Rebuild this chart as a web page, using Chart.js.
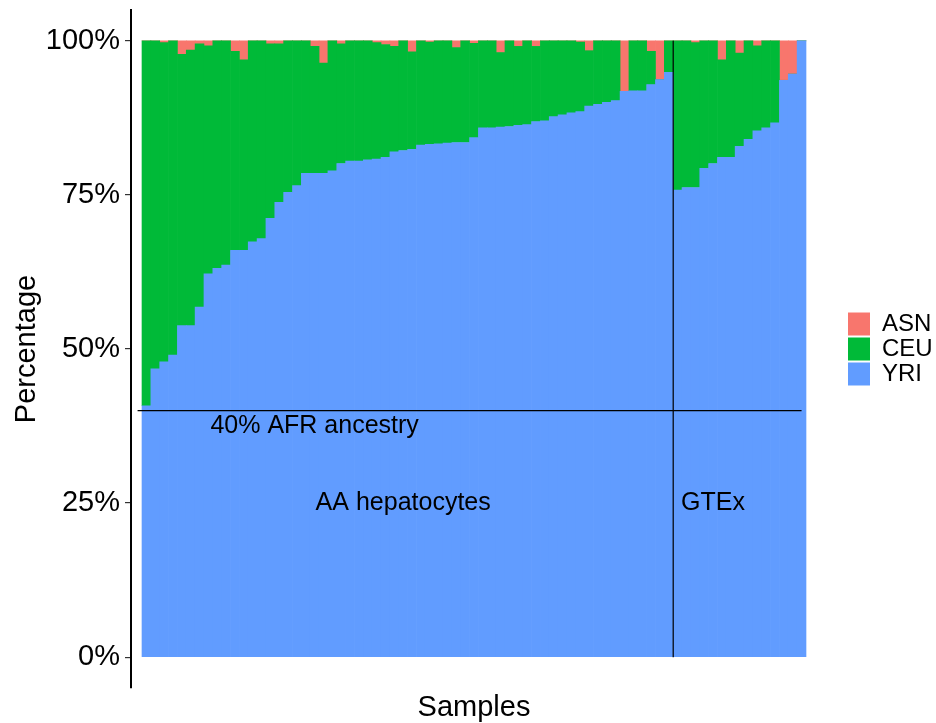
<!DOCTYPE html>
<html>
<head>
<meta charset="utf-8">
<script src="https://cdn.jsdelivr.net/npm/chart.js@4.4.1/dist/chart.umd.min.js"></script>
<style>
  html, body { margin: 0; padding: 0; background: #ffffff; }
  #wrap { width: 936px; height: 723px; }
</style>
</head>
<body>
<div id="wrap"><canvas id="chart" width="936" height="723"></canvas></div>
<script>
// ---- Data ----
const aaSamples = ["AA1","AA2","AA3","AA4","AA5","AA6","AA7","AA8","AA9","AA10",
  "AA11","AA12","AA13","AA14","AA15","AA16","AA17","AA18","AA19","AA20",
  "AA21","AA22","AA23","AA24","AA25","AA26","AA27","AA28","AA29","AA30",
  "AA31","AA32","AA33","AA34","AA35","AA36","AA37","AA38","AA39","AA40",
  "AA41","AA42","AA43","AA44","AA45","AA46","AA47","AA48","AA49","AA50",
  "AA51","AA52","AA53","AA54","AA55","AA56","AA57","AA58","AA59","AA60"];
const gtexSamples = ["GTEx1","GTEx2","GTEx3","GTEx4","GTEx5","GTEx6","GTEx7","GTEx8",
  "GTEx9","GTEx10","GTEx11","GTEx12","GTEx13","GTEx14","GTEx15"];
const samples = aaSamples.concat(gtexSamples);

const yri = [40.8,46.8,47.9,49.0,53.8,53.8,56.8,62.2,63.1,63.6,
  66.0,66.0,67.4,67.9,71.2,73.8,75.4,76.5,78.5,78.5,
  78.5,78.9,80.1,80.5,80.5,80.7,80.8,81.1,82.0,82.2,
  82.4,83.1,83.2,83.3,83.4,83.5,83.5,84.3,85.9,85.9,
  86.0,86.1,86.3,86.4,86.9,87.0,87.7,88.0,88.3,88.5,
  89.4,89.7,90.0,90.3,91.8,91.9,91.9,92.9,93.7,94.9,
  75.8,76.2,76.2,79.3,80.1,81.1,81.1,82.9,84.0,85.4,
  85.9,86.7,93.6,94.6,100.0];
const ceu = [59.2,53.2,51.8,51.0,44.0,44.7,42.7,37.0,36.9,36.4,
  32.3,30.9,32.6,32.1,28.3,25.7,24.6,23.5,21.5,20.6,
  17.9,21.1,19.4,19.5,19.5,19.3,18.9,18.3,17.1,17.8,
  15.8,16.9,16.6,16.7,16.6,15.4,16.5,15.3,14.1,14.1,
  12.1,13.9,12.8,13.6,12.2,13.0,12.3,12.0,11.7,11.3,
  9.0,10.3,10.0,9.7,0.0,8.1,8.1,5.4,0.0,5.1,
  24.2,23.8,23.5,20.7,19.9,15.8,18.9,15.1,16.0,13.8,
  14.1,13.3,0.0,0.0,0.0];
const asn = [0.0,0.0,0.3,0.0,2.2,1.5,0.5,0.8,0.0,0.0,
  1.7,3.1,0.0,0.0,0.5,0.5,0.0,0.0,0.0,0.9,
  3.6,0.0,0.5,0.0,0.0,0.0,0.3,0.6,0.9,0.0,
  1.8,0.0,0.2,0.0,0.0,1.1,0.0,0.4,0.0,0.0,
  1.9,0.0,0.9,0.0,0.9,0.0,0.0,0.0,0.0,0.2,
  1.6,0.0,0.0,0.0,8.2,0.0,0.0,1.7,6.3,0.0,
  0.0,0.0,0.3,0.0,0.0,3.1,0.0,2.0,0.0,0.8,
  0.0,0.0,6.4,5.4,0.0];

const yTickValues = [0, 25, 50, 75, 100];
const thresholdPct = 40;           // horizontal reference line (40% AFR)
const thresholdSpan = [0, 75];     // x extent of that line (sample positions)
const groupBoundary = 60.5;        // between AA hepatocytes and GTEx
const annotationTexts = ["40% AFR ancestry", "AA hepatocytes", "GTEx"];
const annotationX = [20, 30, 65];
const annotationY = [37.5, 25, 25];

// ---- Styling ----
const FONT = '"Liberation Sans", Arial, sans-serif';
const COLORS = { YRI: '#619CFF', CEU: '#00BA38', ASN: '#F8766D' };
const X_MIN = -0.743, X_MAX = 76.743;
const PAD_RIGHT = 34;
const LEGEND_SHIFT = 30;

const toPoints = arr => arr.map((v, i) => ({ x: i + 1, y: v, sample: samples[i] }));

const overlay = {
  id: 'overlay',
  afterLayout(chart) {
    const lg = chart.legend;
    if (lg) { lg.left += LEGEND_SHIFT; lg.right += LEGEND_SHIFT; }
  },
  afterDatasetsDraw(chart) {
    const { ctx, scales: { x, y } } = chart;
    ctx.save();
    ctx.strokeStyle = '#000000';
    ctx.lineWidth = 1.2;
    ctx.beginPath();
    ctx.moveTo(x.getPixelForValue(thresholdSpan[0]), y.getPixelForValue(thresholdPct));
    ctx.lineTo(x.getPixelForValue(thresholdSpan[1]), y.getPixelForValue(thresholdPct));
    ctx.moveTo(x.getPixelForValue(groupBoundary), y.getPixelForValue(0));
    ctx.lineTo(x.getPixelForValue(groupBoundary), y.getPixelForValue(100));
    ctx.stroke();
    ctx.fillStyle = '#000000';
    ctx.font = '25px ' + FONT;
    ctx.textAlign = 'center';
    ctx.textBaseline = 'middle';
    annotationTexts.forEach((t, i) => {
      ctx.fillText(t, x.getPixelForValue(annotationX[i]), y.getPixelForValue(annotationY[i]));
    });
    ctx.restore();
  }
};

new Chart(document.getElementById('chart'), {
  type: 'bar',
  data: {
    labels: samples,
    datasets: [
      { label: 'YRI', data: toPoints(yri), backgroundColor: COLORS.YRI, borderWidth: 0 },
      { label: 'CEU', data: toPoints(ceu), backgroundColor: COLORS.CEU, borderWidth: 0 },
      { label: 'ASN', data: toPoints(asn), backgroundColor: COLORS.ASN, borderWidth: 0 }
    ]
  },
  options: {
    responsive: false,
    animation: false,
    devicePixelRatio: 1,
    barPercentage: 1.0,
    categoryPercentage: 1.0,
    layout: { padding: { top: 10, left: 0, bottom: 0, right: PAD_RIGHT } },
    plugins: {
      tooltip: { enabled: false },
      legend: {
        position: 'right',
        fullSize: false,
        reverse: true,
        align: 'center',
        maxWidth: 85,
        labels: {
          font: { family: FONT, size: 24 },
          color: '#000000',
          boxWidth: 22,
          boxHeight: 23,
          padding: 1
        }
      }
    },
    scales: {
      x: {
        type: 'linear',
        offset: false,
        stacked: true,
        min: X_MIN,
        max: X_MAX,
        grid: { display: false },
        border: { display: false },
        ticks: { display: false },
        afterBuildTicks: s => { s.ticks = []; },
        afterFit: s => { s.height = 35; s.paddingLeft = 0; s.paddingRight = 0; },
        title: {
          display: true,
          text: 'Samples',
          color: '#000000',
          font: { family: FONT, size: 29, lineHeight: 1 },
          padding: { top: 0, bottom: 0.5 }
        }
      },
      y: {
        type: 'linear',
        stacked: true,
        min: -5,
        max: 105,
        afterBuildTicks: s => { s.ticks = yTickValues.map(v => ({ value: v })); },
        afterFit: s => { s.width = 131; s.paddingTop = 0; s.paddingBottom = 0; },
        grid: {
          display: true,
          drawOnChartArea: false,
          drawTicks: true,
          tickLength: 6,
          color: '#333333',
          lineWidth: 1.2
        },
        border: { display: true, color: '#000000', width: 2 },
        ticks: {
          font: { family: FONT, size: 29 },
          color: '#000000',
          padding: 5,
          callback: v => v + '%'
        },
        title: {
          display: true,
          text: 'Percentage',
          color: '#000000',
          font: { family: FONT, size: 29 },
          padding: { top: 10, bottom: 0 }
        }
      }
    }
  },
  plugins: [overlay]
});
</script>
</body>
</html>
